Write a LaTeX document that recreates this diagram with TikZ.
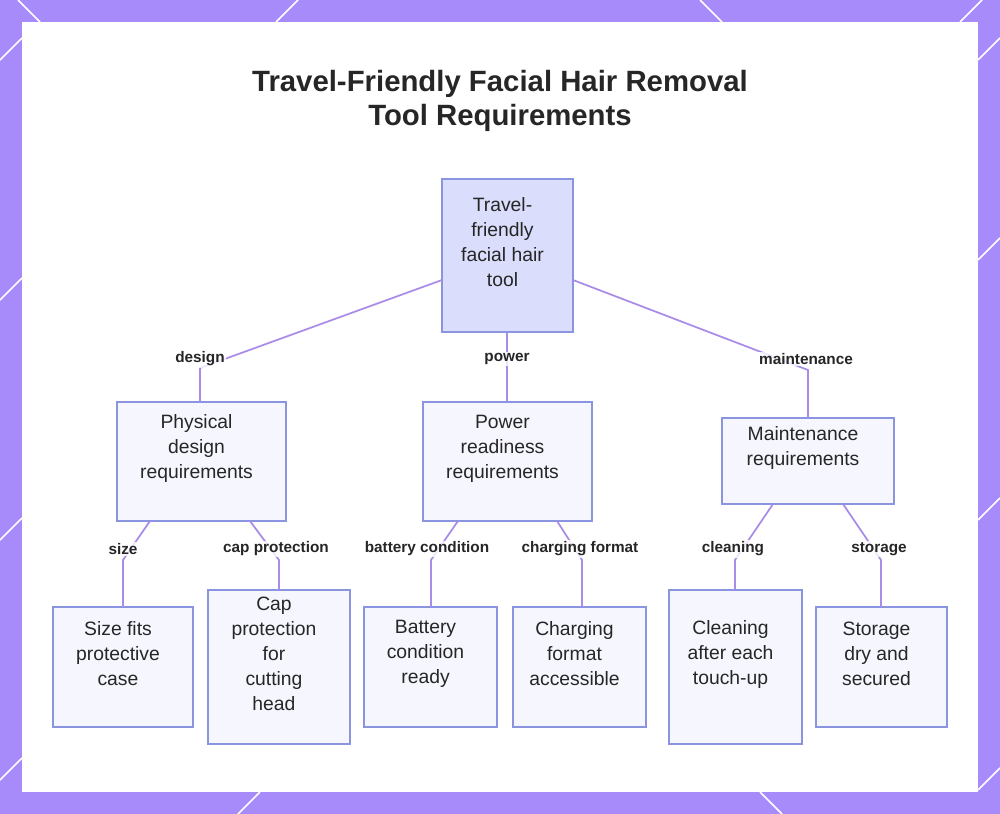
\documentclass[tikz,border=0pt]{standalone}
\usepackage{fontspec}
\setmainfont{Liberation Sans}
\begin{document}
\begin{tikzpicture}[x=0.75pt,y=-0.75pt,
  txt/.style={align=center,font=\fontsize{14.5}{18.75}\selectfont,text=black!85},
  lab/.style={font=\bfseries\fontsize{11.5}{13}\selectfont,text=black!85,fill=white,fill opacity=0.8,text opacity=1,inner sep=1pt},
  con/.style={draw=conn,line width=1.3pt}]
\definecolor{purp}{HTML}{A78BFA}
\definecolor{boxline}{HTML}{8A94DF}
\definecolor{boxfill}{HTML}{F6F7FE}
\definecolor{rootfill}{HTML}{DADDFB}
\definecolor{conn}{HTML}{A98BE8}
\fill[purp] (0,0) rectangle (1000,814);
\fill[white] (22,22) rectangle (978,792);
\useasboundingbox (0,0) rectangle (1000,814);
\foreach \a/\b/\c/\d in {276/22/298/0, 722/22/700/0, 0/60/22/38, 978/60/1000/38, 0/300/22/278, 978/260/1000/238, 0/540/22/518, 978/520/1000/498, 0/780/22/758, 260/792/238/814, 760/792/782/814, 978/790/1000/768, 960/22/982/0, 40/22/18/0}
  \draw[white,line width=1.2pt] (\a,\b) -- (\c,\d);
\node[font=\bfseries\fontsize{22}{25}\selectfont,align=center,text=black!85] (title) at (500,101) {Travel-Friendly Facial Hair Removal\\Tool Requirements};
\newcommand\bx[7]{\draw[boxline,fill=#7,line width=1pt] (#1,#2) rectangle (#3,#4);
  \node[txt] (#5) at ({(#1+#3)/2-5},{(#2+#4)/2-13}) {#6};}
\bx{442}{179}{573}{332}{rt}{Travel-\\friendly\\facial hair\\tool}{rootfill}
\bx{117}{402}{286}{521}{phys}{Physical\\design\\requirements}{boxfill}
\bx{423}{402}{592}{521}{pow}{Power\\readiness\\requirements}{boxfill}
\bx{722}{418}{894}{504}{main}{Maintenance\\requirements}{boxfill}
\bx{53}{607}{193}{727}{size}{Size fits\\protective\\case}{boxfill}
\bx{208}{590}{350}{744}{cap}{Cap\\protection\\for\\cutting\\head}{boxfill}
\bx{364}{607}{497}{727}{bat}{Battery\\condition\\ready}{boxfill}
\bx{513}{607}{646}{727}{chg}{Charging\\format\\accessible}{boxfill}
\bx{669}{590}{802}{744}{cln}{Cleaning\\after each\\touch-up}{boxfill}
\bx{816}{607}{947}{727}{sto}{Storage\\dry and\\secured}{boxfill}
\draw[con] (442,280) -- (200,368) -- (200,402);
\draw[con] (507,332) -- (507,402);
\draw[con] (573,280) -- (808,370) -- (808,418);
\draw[con] (150,521) -- (123,560) -- (123,607);
\draw[con] (250,521) -- (279,560) -- (279,590);
\draw[con] (458,521) -- (431,560) -- (431,607);
\draw[con] (557,521) -- (582,560) -- (582,607);
\draw[con] (773,504) -- (735,560) -- (735,590);
\draw[con] (843,504) -- (881,560) -- (881,607);
\node[lab] (l1) at (200,359) {design};
\node[lab] (l2) at (507,359) {power};
\node[lab] (l3) at (806,359) {maintenance};
\node[lab] (l4) at (123,549) {size};
\node[lab] (l5) at (276,549) {cap protection};
\node[lab] (l6) at (427,549) {battery condition};
\node[lab] (l7) at (580,549) {charging format};
\node[lab] (l8) at (733,549) {cleaning};
\node[lab] (l9) at (879,549) {storage};
\end{tikzpicture}
\end{document}
